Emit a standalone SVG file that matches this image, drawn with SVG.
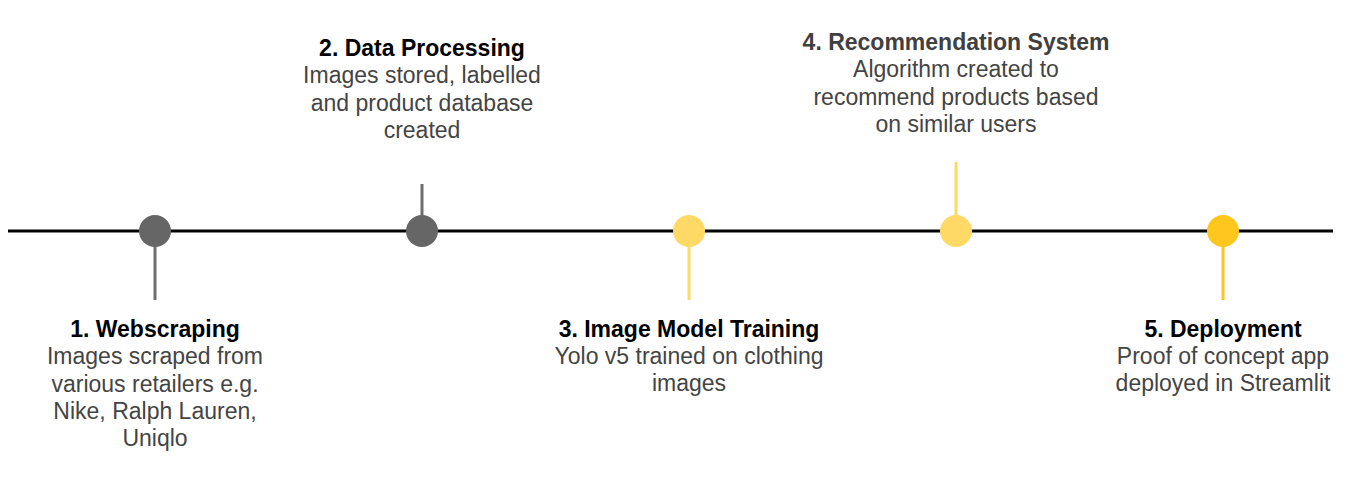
<svg xmlns="http://www.w3.org/2000/svg" width="1352" height="479" viewBox="0 0 1352 479">
<style>
text{font-family:"Liberation Sans",Arial,sans-serif;font-size:23px;text-anchor:middle;fill:#444444}
.t{font-weight:bold;fill:#000000}
.t4{font-weight:bold;fill:#404040}
.stem{stroke-width:3;fill:none}
.g{stroke:#6e6e6e}
.ly{stroke:#FFD966}
.dy{stroke:#FFC61E}
</style>
<rect width="1352" height="479" fill="#ffffff"/>
<g id="connectors">
<line x1="8" y1="231" x2="1333" y2="231" stroke="#000000" stroke-width="3"/>
<line class="stem g" x1="155" y1="231" x2="155" y2="300"/>
<line class="stem g" x1="422" y1="184" x2="422" y2="231"/>
<line class="stem ly" x1="689" y1="231" x2="689" y2="300"/>
<line class="stem ly" x1="956" y1="162" x2="956" y2="231"/>
<line class="stem dy" x1="1223" y1="231" x2="1223" y2="300"/>
</g>
<g id="node1">
<circle cx="155" cy="231" r="16" fill="#666666"/>
<text class="t" x="155" y="337">1. Webscraping</text>
<text x="155" y="364">Images scraped from</text>
<text x="155" y="392">various retailers e.g.</text>
<text x="155" y="419">Nike, Ralph Lauren,</text>
<text x="155" y="446">Uniqlo</text>
</g>
<g id="node2">
<circle cx="422" cy="231" r="16" fill="#666666"/>
<text class="t" x="422" y="56">2. Data Processing</text>
<text x="422" y="83">Images stored, labelled</text>
<text x="422" y="111">and product database</text>
<text x="422" y="138">created</text>
</g>
<g id="node3">
<circle cx="689" cy="231" r="16" fill="#FFD966"/>
<text class="t" x="689" y="337">3. Image Model Training</text>
<text x="689" y="364">Yolo v5 trained on clothing</text>
<text x="689" y="391">images</text>
</g>
<g id="node4">
<circle cx="956" cy="231" r="16" fill="#FFD966"/>
<text class="t4" x="956" y="50">4. Recommendation System</text>
<text x="956" y="77">Algorithm created to</text>
<text x="956" y="105">recommend products based</text>
<text x="956" y="132">on similar users</text>
</g>
<g id="node5">
<circle cx="1223" cy="231" r="16" fill="#FFC61E"/>
<text class="t" x="1223" y="337">5. Deployment</text>
<text x="1223" y="364">Proof of concept app</text>
<text x="1223" y="391">deployed in Streamlit</text>
</g>
</svg>
